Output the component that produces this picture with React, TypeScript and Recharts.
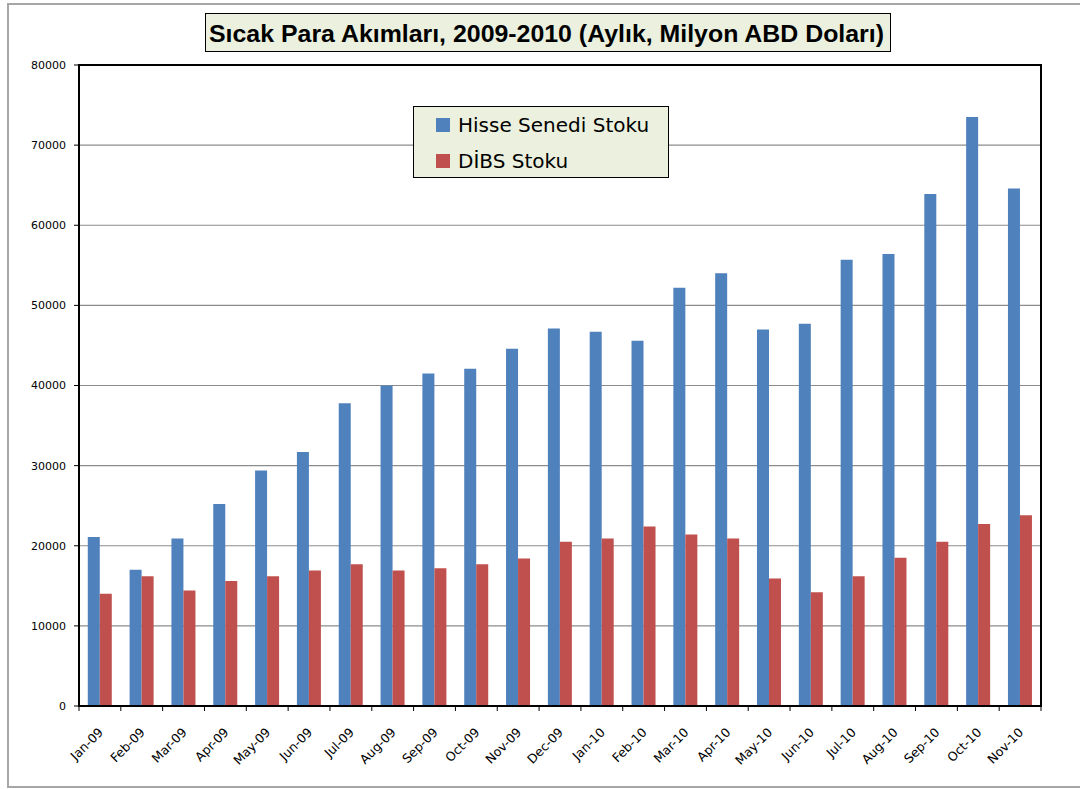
import React from "react";
import { BarChart, Bar, XAxis, YAxis, CartesianGrid, ReferenceArea } from "recharts";

const months = ["Jan-09","Feb-09","Mar-09","Apr-09","May-09","Jun-09","Jul-09","Aug-09","Sep-09","Oct-09","Nov-09","Dec-09","Jan-10","Feb-10","Mar-10","Apr-10","May-10","Jun-10","Jul-10","Aug-10","Sep-10","Oct-10","Nov-10"];
const hisse = [21100,17000,20900,25200,29400,31700,37800,40000,41500,42100,44600,47100,46700,45600,52200,54000,47000,47700,55700,56400,63900,73500,64600];
const dibs = [14000,16200,14400,15600,16200,16900,17700,16900,17200,17700,18400,20500,20900,22400,21400,20900,15900,14200,16200,18500,20500,22700,23800];
const yTicks = [0,10000,20000,30000,40000,50000,60000,70000,80000];
const seriesNames = ["Hisse Senedi Stoku", "DİBS Stoku"];
const colors = ["#4F81BD", "#C0504D"];
const titleText = "Sıcak Para Akımları, 2009-2010 (Aylık, Milyon ABD Doları)";

const data = months.map((m, i) => ({ month: m, hisse: hisse[i], dibs: dibs[i] }));

const PLOT_LEFT = 79;
const PLOT_RIGHT = 1041;
const BAND = (PLOT_RIGHT - PLOT_LEFT) / months.length;

const XTick = (props: any) => {
  const { x, y, payload, index } = props;
  const tx = x + 4;
  const ty = y + 27;
  const left = x - BAND / 2;
  const isLast = index === months.length - 1;
  return (
    <g>
      <line x1={left} y1={y} x2={left} y2={y + 5} stroke="#000" strokeWidth={1} />
      {isLast && <line x1={x + BAND / 2} y1={y} x2={x + BAND / 2} y2={y + 5} stroke="#000" strokeWidth={1} />}
      <text x={tx} y={ty} transform={`rotate(-45, ${tx}, ${ty})`} textAnchor="end" fontFamily="DejaVu Sans" fontSize={12.5} fill="#000">
        {payload.value}
      </text>
    </g>
  );
};

const LegendBox = () => (
  <div style={{ position: "absolute", left: 413, top: 106, width: 256, height: 72, background: "#EBF1DE", border: "1px solid #000", boxSizing: "border-box", fontFamily: "DejaVu Sans", fontSize: 20, color: "#000" }}>
    {seriesNames.map((n, i) => (
      <div key={n} style={{ position: "absolute", left: 22, top: 4 + i * 36, display: "flex", alignItems: "center", height: 28 }}>
        <span style={{ display: "inline-block", width: 14, height: 14, background: colors[i], marginRight: 8 }} />
        <span>{n}</span>
      </div>
    ))}
  </div>
);

export default function App() {
  return (
    <div style={{ position: "fixed", left: 0, top: 0, width: 1080, height: 789, background: "#fff", overflow: "hidden" }}>
      <div style={{ position: "absolute", left: 7, top: 3, width: 1090, height: 785, border: "2px solid #A6A6A6", boxSizing: "border-box" }} />
      <BarChart
        width={1080}
        height={789}
        data={data}
        margin={{ top: 65, right: 39, left: 0, bottom: 0 }}
        barCategoryGap="21%"
        barGap={0}
        style={{ position: "absolute", left: 0, top: 0 }}
      >
        <CartesianGrid vertical={false} stroke="#8C8C8C" strokeWidth={1.2} />
        <XAxis dataKey="month" height={83} axisLine={{ stroke: "#000", strokeWidth: 2 }} tickLine={false} tickSize={0} tickMargin={0} interval={0} tick={<XTick />} />
        <YAxis width={79} domain={[0, 80000]} ticks={yTicks} interval={0} axisLine={{ stroke: "#000", strokeWidth: 2 }} tickLine={{ stroke: "#000" }} tickSize={5} tickMargin={8} tick={{ fontFamily: "DejaVu Sans", fontSize: 11, fill: "#000" }} />
        <Bar dataKey="hisse" name={seriesNames[0]} fill={colors[0]} isAnimationActive={false} />
        <Bar dataKey="dibs" name={seriesNames[1]} fill={colors[1]} isAnimationActive={false} />
        <ReferenceArea y1={0} y2={80000} fill="none" stroke="#000" strokeWidth={2} ifOverflow="visible" />
      </BarChart>
      <LegendBox />
      <div style={{ position: "absolute", left: 205, top: 13, width: 686, height: 39, background: "#EBF1DE", border: "1px solid #000", boxSizing: "border-box" }}>
        <svg width={684} height={37} style={{ display: "block" }}>
          <text x={3} y={28} textLength={675} lengthAdjust="spacingAndGlyphs" fontFamily="Liberation Sans" fontWeight="bold" fontSize={24} fill="#000">
            {titleText}
          </text>
        </svg>
      </div>
    </div>
  );
}
